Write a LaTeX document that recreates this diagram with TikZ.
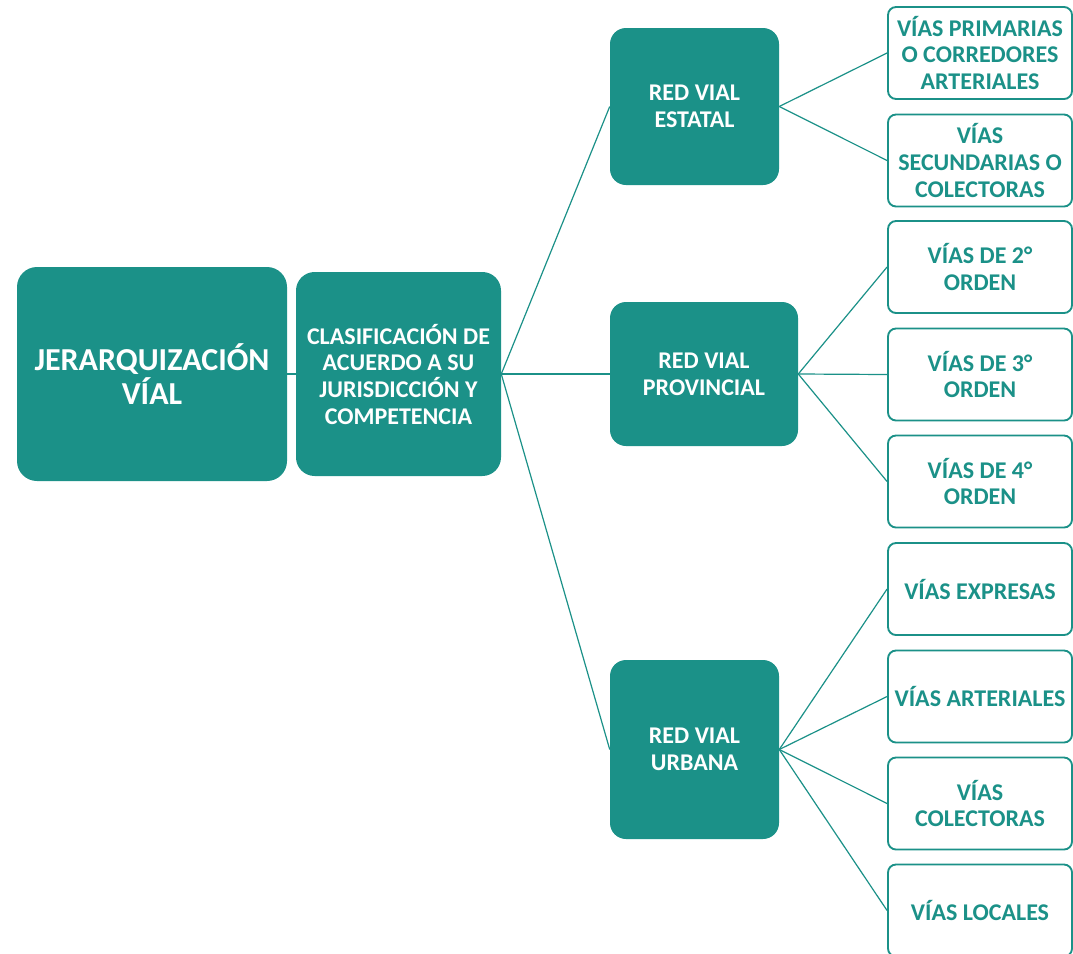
\documentclass[tikz,border=0pt]{standalone}
\usepackage{fontspec}
\setmainfont{Carlito}
\definecolor{tealc}{RGB}{27,145,136}
\begin{document}
\begin{tikzpicture}[x=0.75pt,y=-0.75pt,
  filledbox/.style={fill=tealc, draw=none, rounded corners=12pt, inner sep=0pt,
    text=white, font=\fontsize{18}{20}\selectfont\bfseries, align=center},
  leafbox/.style={fill=white, draw=tealc, line width=1.4pt, rounded corners=6pt, inner sep=0pt,
    minimum width=138pt, minimum height=69pt,
    text=tealc, font=\fontsize{18}{20}\selectfont\bfseries, align=center},
  link/.style={draw=tealc, line width=0.9pt}]
\useasboundingbox (0,0) rectangle (1073,953);
\fill[white] (0,0) rectangle (1073,953);
% main boxes
\node[filledbox, rounded corners=15pt, minimum width=202.5pt, minimum height=160.5pt,
  font=\fontsize{24}{25}\selectfont\bfseries] (jer) at (152,374) {JERARQUIZACIÓN\\VÍAL};
\node[filledbox, rounded corners=14pt, minimum width=153.75pt, minimum height=153pt] (clas) at (398.5,374)
  {CLASIFICACIÓN DE\\ACUERDO A SU\\JURISDICCIÓN Y\\COMPETENCIA};
\node[filledbox, minimum width=126.75pt, minimum height=117.75pt] (est) at (694.5,106.5) {RED VIAL\\ESTATAL};
\node[filledbox, minimum width=141pt, minimum height=108pt] (prov) at (704,374) {RED VIAL\\PROVINCIAL};
\node[filledbox, minimum width=126.75pt, minimum height=134.25pt] (urb) at (694.5,749.5) {RED VIAL\\URBANA};
% leaf boxes
\node[leafbox] (l1) at (980,53) {VÍAS PRIMARIAS\\O CORREDORES\\ARTERIALES};
\node[leafbox] (l2) at (980,160.5) {VÍAS\\SECUNDARIAS O\\COLECTORAS};
\node[leafbox] (l3) at (980,267) {VÍAS DE 2°\\ORDEN};
\node[leafbox] (l4) at (980,374.5) {VÍAS DE 3°\\ORDEN};
\node[leafbox] (l5) at (980,481.5) {VÍAS DE 4°\\ORDEN};
\node[leafbox] (l6) at (980,589) {VÍAS EXPRESAS};
\node[leafbox] (l7) at (980,696.5) {VÍAS ARTERIALES};
\node[leafbox] (l8) at (980,803.5) {VÍAS\\COLECTORAS};
\node[leafbox] (l9) at (980,910.5) {VÍAS LOCALES};
% connectors
\draw[link] (jer.east) -- (clas.west);
\draw[link] (clas.east) -- (est.west);
\draw[link] (clas.east) -- (prov.west);
\draw[link] (clas.east) -- (urb.west);
\draw[link] (est.east) -- (l1.west);
\draw[link] (est.east) -- (l2.west);
\draw[link] (prov.east) -- (l3.west);
\draw[link] (prov.east) -- (l4.west);
\draw[link] (prov.east) -- (l5.west);
\draw[link] (urb.east) -- (l6.west);
\draw[link] (urb.east) -- (l7.west);
\draw[link] (urb.east) -- (l8.west);
\draw[link] (urb.east) -- (l9.west);
\end{tikzpicture}
\end{document}
